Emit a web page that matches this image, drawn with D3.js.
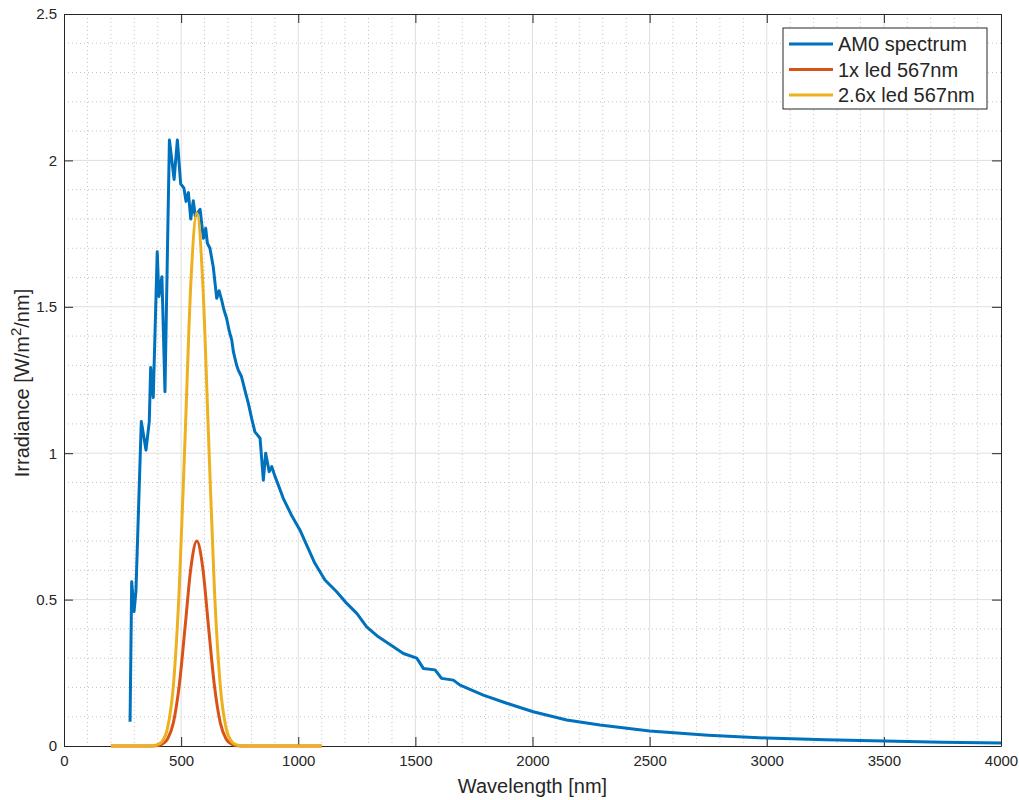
<!DOCTYPE html>
<html>
<head>
<meta charset="utf-8">
<script src="https://cdn.jsdelivr.net/npm/d3@7"></script>
<style>
  body { margin: 0; background: #fff; }
  svg text { font-family: "Liberation Sans", Arial, sans-serif; fill: #262626; }
</style>
</head>
<body>
<svg id="chart" width="1019" height="800"></svg>
<script>
// AM0 solar spectrum
var am0Wl = [282, 289, 299, 307, 330, 350, 364, 370, 381, 398, 405, 418, 431, 450, 470, 484, 498, 512, 521, 531, 541, 552, 560, 581, 595, 605, 612, 623, 637, 652, 662, 673, 683, 694, 706, 716, 723, 737, 744, 758, 773, 787, 801, 815, 837, 851, 861, 876, 887, 901, 915, 936, 970, 1007, 1036, 1071, 1114, 1164, 1207, 1250, 1292, 1342, 1406, 1449, 1506, 1534, 1584, 1612, 1662, 1691, 1790, 1890, 2003, 2146, 2288, 2500, 2750, 3000, 3250, 3500, 3750, 4000];
var am0Irr = [0.083, 0.561, 0.459, 0.527, 1.108, 1.011, 1.108, 1.293, 1.19, 1.688, 1.535, 1.603, 1.21, 2.07, 1.935, 2.07, 1.92, 1.905, 1.86, 1.89, 1.80, 1.862, 1.81, 1.833, 1.734, 1.768, 1.717, 1.70, 1.637, 1.529, 1.555, 1.523, 1.489, 1.461, 1.415, 1.387, 1.347, 1.30, 1.284, 1.261, 1.213, 1.17, 1.119, 1.073, 1.051, 0.908, 1.0, 0.937, 0.954, 0.92, 0.891, 0.846, 0.79, 0.738, 0.686, 0.624, 0.567, 0.527, 0.487, 0.453, 0.407, 0.373, 0.339, 0.316, 0.30, 0.265, 0.26, 0.231, 0.225, 0.208, 0.174, 0.146, 0.117, 0.089, 0.072, 0.051, 0.037, 0.027, 0.021, 0.017, 0.013, 0.010];

// LED spectra (1x and 2.6x)
var ledWl = [200, 367, 392, 417, 442, 467, 492, 517, 542, 567, 592, 617, 642, 667, 692, 717, 742, 767, 1100];
var led1x = [0, 0.0001, 0.0009, 0.0053, 0.024, 0.080, 0.207, 0.407, 0.611, 0.70, 0.611, 0.407, 0.207, 0.080, 0.024, 0.0053, 0.0009, 0.0001, 0];
var led26x = [0, 0.0003, 0.0024, 0.014, 0.061, 0.207, 0.537, 1.057, 1.589, 1.82, 1.589, 1.057, 0.537, 0.207, 0.061, 0.014, 0.0024, 0.0003, 0];

var seriesNames = ["AM0 spectrum", "1x led 567nm", "2.6x led 567nm"];
var seriesColors = ["#0072BD", "#D95319", "#EDB120"];

var xTicks = [0, 500, 1000, 1500, 2000, 2500, 3000, 3500, 4000];
var yTicks = [0, 0.5, 1, 1.5, 2, 2.5];

var svg = d3.select("#chart");
var pL = 64, pR = 1001, pT = 14, pB = 746;

var x = d3.scaleLinear().domain([0, 4000]).range([pL, pR]);
var y = d3.scaleLinear().domain([0, 2.5]).range([pB, pT]);

// minor grid (dotted)
var minorX = d3.range(100, 4000, 100).filter(function(d){ return d % 500 != 0; });
var minorY = d3.range(1, 25).map(function(d){ return d / 10; }).filter(function(d){ return Math.round(d * 10) % 5 != 0; });

svg.append("g").selectAll("line").data(minorX).enter().append("line")
  .attr("x1", d => x(d)).attr("x2", d => x(d)).attr("y1", pT).attr("y2", pB)
  .attr("stroke", "#c4c4c4").attr("stroke-width", 1).attr("stroke-dasharray", "1,3");
svg.append("g").selectAll("line").data(minorY).enter().append("line")
  .attr("y1", d => y(d)).attr("y2", d => y(d)).attr("x1", pL).attr("x2", pR)
  .attr("stroke", "#c4c4c4").attr("stroke-width", 1).attr("stroke-dasharray", "1,3");

// major grid
svg.append("g").selectAll("line").data(xTicks.slice(1, -1)).enter().append("line")
  .attr("x1", d => x(d)).attr("x2", d => x(d)).attr("y1", pT).attr("y2", pB)
  .attr("stroke", "#dfdfdf").attr("stroke-width", 1);
svg.append("g").selectAll("line").data(yTicks.slice(1, -1)).enter().append("line")
  .attr("y1", d => y(d)).attr("y2", d => y(d)).attr("x1", pL).attr("x2", pR)
  .attr("stroke", "#dfdfdf").attr("stroke-width", 1);

// axes
var fmt = function(d){ return d3.format("")(d); };
var xAxis = svg.append("g").attr("transform", "translate(0," + pB + ")")
  .call(d3.axisBottom(x).tickValues(xTicks).tickSizeInner(-9).tickSizeOuter(0).tickPadding(9).tickFormat(fmt));
var xTop = svg.append("g").attr("transform", "translate(0," + pT + ")")
  .call(d3.axisTop(x).tickValues(xTicks).tickSizeInner(-9).tickSizeOuter(0).tickFormat(""));
var yAxis = svg.append("g").attr("transform", "translate(" + pL + ",0)")
  .call(d3.axisLeft(y).tickValues(yTicks).tickSizeInner(-9).tickSizeOuter(0).tickPadding(7).tickFormat(fmt));
var yRight = svg.append("g").attr("transform", "translate(" + pR + ",0)")
  .call(d3.axisRight(y).tickValues(yTicks).tickSizeInner(-9).tickSizeOuter(0).tickFormat(""));

[xAxis, xTop, yAxis, yRight].forEach(function(g){
  g.select(".domain").attr("stroke", "#262626").attr("stroke-width", 1);
  g.selectAll(".tick line").attr("stroke", "#262626");
  g.selectAll("text").attr("font-size", 15).attr("fill", "#262626")
    .attr("font-family", "Liberation Sans, Arial, sans-serif");
});

// lines
var line = d3.line().x(d => x(d[0])).y(d => y(d[1]));
var smooth = d3.line().x(d => x(d[0])).y(d => y(d[1])).curve(d3.curveMonotoneX);

var plot = svg.append("g");
plot.append("path").datum(am0Wl.map((w, i) => [w, am0Irr[i]]))
  .attr("d", line).attr("fill", "none").attr("stroke", seriesColors[0])
  .attr("stroke-width", 3).attr("stroke-linejoin", "round");
plot.append("path").datum(ledWl.map((w, i) => [w, led1x[i]]))
  .attr("d", smooth).attr("fill", "none").attr("stroke", seriesColors[1])
  .attr("stroke-width", 3).attr("stroke-linejoin", "round");
plot.append("path").datum(ledWl.map((w, i) => [w, led26x[i]]))
  .attr("d", smooth).attr("fill", "none").attr("stroke", seriesColors[2])
  .attr("stroke-width", 3).attr("stroke-linejoin", "round");

// axis labels
svg.append("text").attr("x", (pL + pR) / 2).attr("y", 793)
  .attr("text-anchor", "middle").attr("font-size", 20).text("Wavelength [nm]");
var yl = svg.append("text").attr("transform", "translate(29,383) rotate(-90)")
  .attr("text-anchor", "middle").attr("font-size", 20);
yl.append("tspan").text("Irradiance [W/m");
yl.append("tspan").attr("font-size", 15).attr("dy", -8).text("2");
yl.append("tspan").attr("dy", 8).text("/nm]");

// legend
var lg = svg.append("g").attr("transform", "translate(783,28)");
lg.append("rect").attr("width", 204).attr("height", 81)
  .attr("fill", "#fff").attr("stroke", "#262626").attr("stroke-width", 1);
seriesNames.forEach(function(n, i){
  var cy = 16 + i * 25.5;
  lg.append("line").attr("x1", 6).attr("x2", 50).attr("y1", cy).attr("y2", cy)
    .attr("stroke", seriesColors[i]).attr("stroke-width", 3);
  lg.append("text").attr("x", 55).attr("y", cy + 7).attr("font-size", 20).text(n);
});
</script>
</body>
</html>
